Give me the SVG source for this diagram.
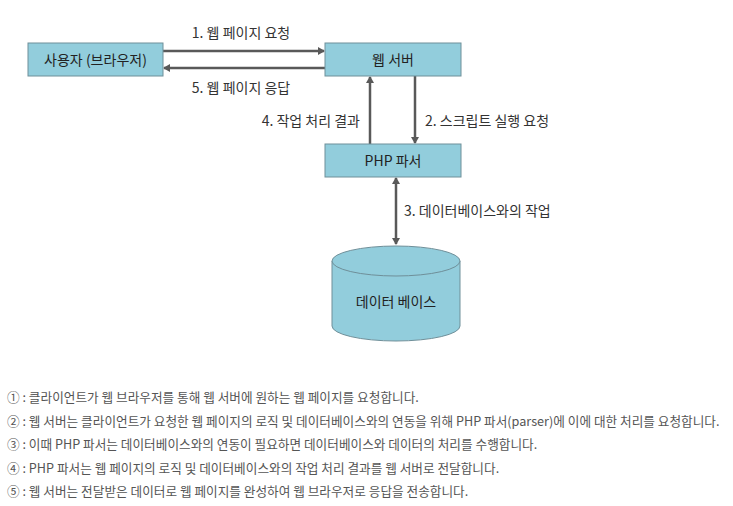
<svg xmlns="http://www.w3.org/2000/svg" width="733" height="506" viewBox="0 0 733 506">
<style>
.box{fill:#92cddc;stroke:#6f8f99;stroke-width:1}
.lbl{font-family:"Noto Sans CJK KR","Noto Sans",sans-serif;font-size:14px;fill:#222;text-anchor:middle}
.cap{font-family:"Noto Sans CJK KR","Noto Sans",sans-serif;font-size:14px;fill:#333}
.note{font-family:"Noto Sans CJK KR","Noto Sans",sans-serif;font-size:12.66px;fill:#555}
.con{stroke:#595959;stroke-width:2.5;fill:none}
</style>
<defs>
<marker id="ah" markerWidth="8" markerHeight="8" refX="6" refY="4" orient="auto-start-reverse" markerUnits="userSpaceOnUse">
<path d="M0,0 L7,4 L0,8 z" fill="#595959"/>
</marker>
</defs>
<rect width="733" height="506" fill="#fff"/>
<g id="connectors">
<line class="con" x1="163" y1="51" x2="324" y2="51" marker-end="url(#ah)"/>
<line class="con" x1="325" y1="68" x2="164" y2="68" marker-end="url(#ah)"/>
<line class="con" x1="370" y1="144" x2="370" y2="77" marker-end="url(#ah)"/>
<line class="con" x1="415" y1="76" x2="415" y2="143" marker-end="url(#ah)"/>
<line class="con" x1="396" y1="178" x2="396" y2="244" marker-start="url(#ah)" marker-end="url(#ah)"/>
<text class="cap" x="241" y="38" text-anchor="middle">1. 웹 페이지 요청</text>
<text class="cap" x="241" y="93" text-anchor="middle">5. 웹 페이지 응답</text>
<text class="cap" x="360" y="126" text-anchor="end">4. 작업 처리 결과</text>
<text class="cap" x="425" y="126">2. 스크립트 실행 요청</text>
<text class="cap" x="404" y="216">3. 데이터베이스와의 작업</text>
</g>
<g id="user">
<rect class="box" x="28" y="43" width="135" height="33"/>
<text class="lbl" x="95.5" y="64.5">사용자 (브라우저)</text>
</g>
<g id="webserver">
<rect class="box" x="325" y="43" width="136" height="33"/>
<text class="lbl" x="393" y="64.5">웹 서버</text>
</g>
<g id="php">
<rect class="box" x="325" y="144" width="136" height="33"/>
<text class="lbl" x="393" y="165.5">PHP 파서</text>
</g>
<g id="database">
<path class="box" d="M332,261 L332,326 A64,15 0 0 0 460,326 L460,261 A64,15 0 0 0 332,261 Z"/>
<path class="box" d="M332,261 A64,15 0 0 0 460,261" fill="none"/>
<text class="lbl" x="396" y="307">데이터 베이스</text>
</g>
<g id="notes">
<text class="note" x="7" y="402">① : 클라이언트가 웹 브라우저를 통해 웹 서버에 원하는 웹 페이지를 요청합니다.</text>
<text class="note" x="7" y="425.5">② : 웹 서버는 클라이언트가 요청한 웹 페이지의 로직 및 데이터베이스와의 연동을 위해 PHP 파서(parser)에 이에 대한 처리를 요청합니다.</text>
<text class="note" x="7" y="449">③ : 이때 PHP 파서는 데이터베이스와의 연동이 필요하면 데이터베이스와 데이터의 처리를 수행합니다.</text>
<text class="note" x="7" y="472.5">④ : PHP 파서는 웹 페이지의 로직 및 데이터베이스와의 작업 처리 결과를 웹 서버로 전달합니다.</text>
<text class="note" x="7" y="496">⑤ : 웹 서버는 전달받은 데이터로 웹 페이지를 완성하여 웹 브라우저로 응답을 전송합니다.</text>
</g>
</svg>
